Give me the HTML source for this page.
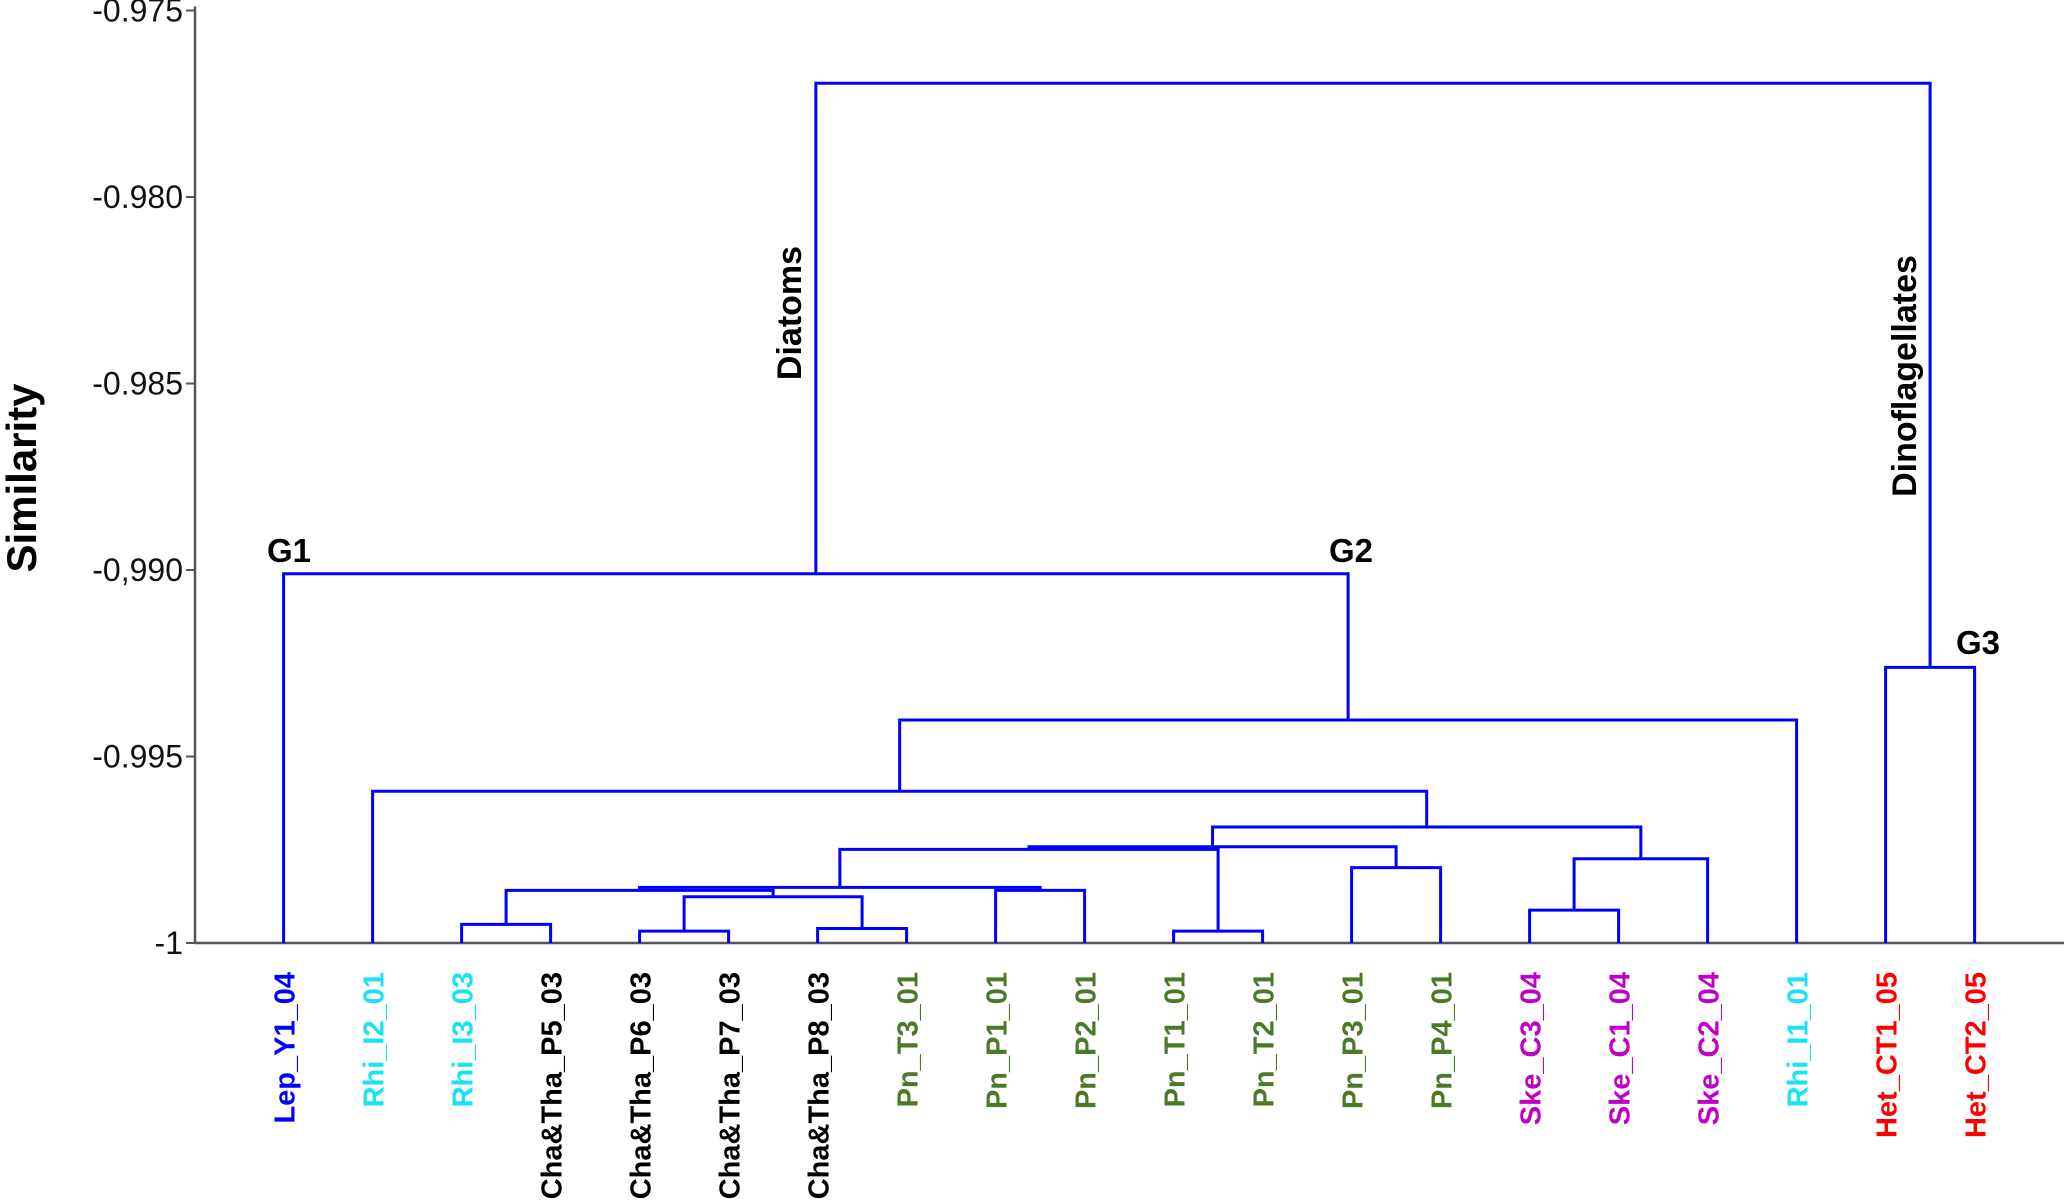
<!DOCTYPE html>
<html><head><meta charset="utf-8">
<style>
html,body{margin:0;padding:0;background:#fff;}
svg{display:block;}
text{font-family:"Liberation Sans",Arial,sans-serif;}
</style></head>
<body>
<svg id="chart" width="2067" height="1201" viewBox="0 0 2067 1201" xmlns="http://www.w3.org/2000/svg">
<g id="axes"></g>
<g id="tree"></g>
<g id="labels"></g>
<text transform="translate(36,478) rotate(-90)" text-anchor="middle" font-size="42" font-weight="bold">Similarity</text>
<text x="267" y="562" font-size="33" font-weight="bold">G1</text>
<text x="1329" y="562" font-size="33" font-weight="bold">G2</text>
<text x="1956" y="654" font-size="33" font-weight="bold">G3</text>
<text transform="translate(801,313) rotate(-90)" text-anchor="middle" font-size="34" font-weight="bold">Diatoms</text>
<text transform="translate(1916,376) rotate(-90)" text-anchor="middle" font-size="34" font-weight="bold">Dinoflagellates</text>
</svg>
<script>
const leaves = ["Lep_Y1_04","Rhi_I2_01","Rhi_I3_03","Cha&Tha_P5_03","Cha&Tha_P6_03","Cha&Tha_P7_03","Cha&Tha_P8_03","Pn_T3_01","Pn_P1_01","Pn_P2_01","Pn_T1_01","Pn_T2_01","Pn_P3_01","Pn_P4_01","Ske_C3_04","Ske_C1_04","Ske_C2_04","Rhi_I1_01","Het_CT1_05","Het_CT2_05"];
const leafColors = ["#0000ff","#19e3f0","#19e3f0","#000000","#000000","#000000","#000000","#4a7a28","#4a7a28","#4a7a28","#4a7a28","#4a7a28","#4a7a28","#4a7a28","#c000c8","#c000c8","#c000c8","#19e3f0","#ff0000","#ff0000"];
// merges: leaves are "L<i>", internal nodes "N<i>"
const mergeLeft  = ["L2","L4","L6","N1","N0","L8","N4","L10","N6","L12","N8","L14","N11","N10","L1","N14","L0","L18","N16"];
const mergeRight = ["L3","L5","L7","N2","N3","L9","N5","L11","N7","L13","N9","L15","L16","N12","N13","L17","N15","L19","N17"];
const mergeHeight= [-0.99950,-0.99968,-0.99961,-0.99876,-0.99859,-0.99859,-0.99851,-0.99968,-0.99749,-0.99798,-0.99742,-0.99912,-0.99774,-0.99689,-0.99593,-0.99402,-0.99010,-0.99261,-0.97695];
const yTicks = [-0.975,-0.980,-0.985,-0.990,-0.995,-1];
const yTickLabels = ["-0.975","-0.980","-0.985","-0,990","-0.995","-1"];

const NS="http://www.w3.org/2000/svg";
const X0=195, XEND=2064, Y_TOP=10.5, Y_BOT=943, LEAF0=283.6, LEAFSTEP=89.0;
const yScale = v => Y_BOT - (v + 1) / 0.025 * (Y_BOT - Y_TOP);
const xLeaf = i => LEAF0 + i * LEAFSTEP;
function mk(tag, attrs, parent){const e=document.createElementNS(NS,tag);for(const k in attrs)e.setAttribute(k,attrs[k]);parent.appendChild(e);return e;}

const axes=document.getElementById('axes');
let ax=mk('line',{x1:X0,y1:Y_TOP-4,x2:X0,y2:Y_BOT,stroke:'#555',"stroke-width":2.5},axes);


let bx=mk('line',{x1:X0,y1:Y_BOT,x2:XEND,y2:Y_BOT,stroke:'#555',"stroke-width":2.5},axes);


yTicks.forEach((t,i)=>{
  const y=yScale(t);
  const tk=mk('line',{x1:X0-9,y1:y,x2:X0,y2:y,stroke:'#555',"stroke-width":2},axes);
  
  
  const tl=mk('text',{x:X0-12,y:y+11,"text-anchor":"end","font-size":32,fill:'#111'},axes);
  tl.textContent=yTickLabels[i];
  
  
});

const pos={};
leaves.forEach((n,i)=>{pos['L'+i]={x:xLeaf(i),y:Y_BOT};});
const tree=document.getElementById('tree');
mergeLeft.forEach((l,i)=>{
  const a=pos[l], b=pos[mergeRight[i]], y=yScale(mergeHeight[i]);
  const p=mk('path',{d:`M${a.x},${a.y}V${y}H${b.x}V${b.y}`,fill:'none',stroke:'#0000ff',"stroke-width":3},tree);
  
  
  pos['N'+i]={x:(a.x+b.x)/2,y:y};
});

const lab=document.getElementById('labels');
leaves.forEach((n,i)=>{
  const x=xLeaf(i)+11;
  const t=mk('text',{transform:`translate(${x},972) rotate(-90)`,"text-anchor":"end","font-size":29,"font-weight":"bold",fill:leafColors[i]},lab);
  t.textContent=n;
  
  
});
</script>
</body></html>
